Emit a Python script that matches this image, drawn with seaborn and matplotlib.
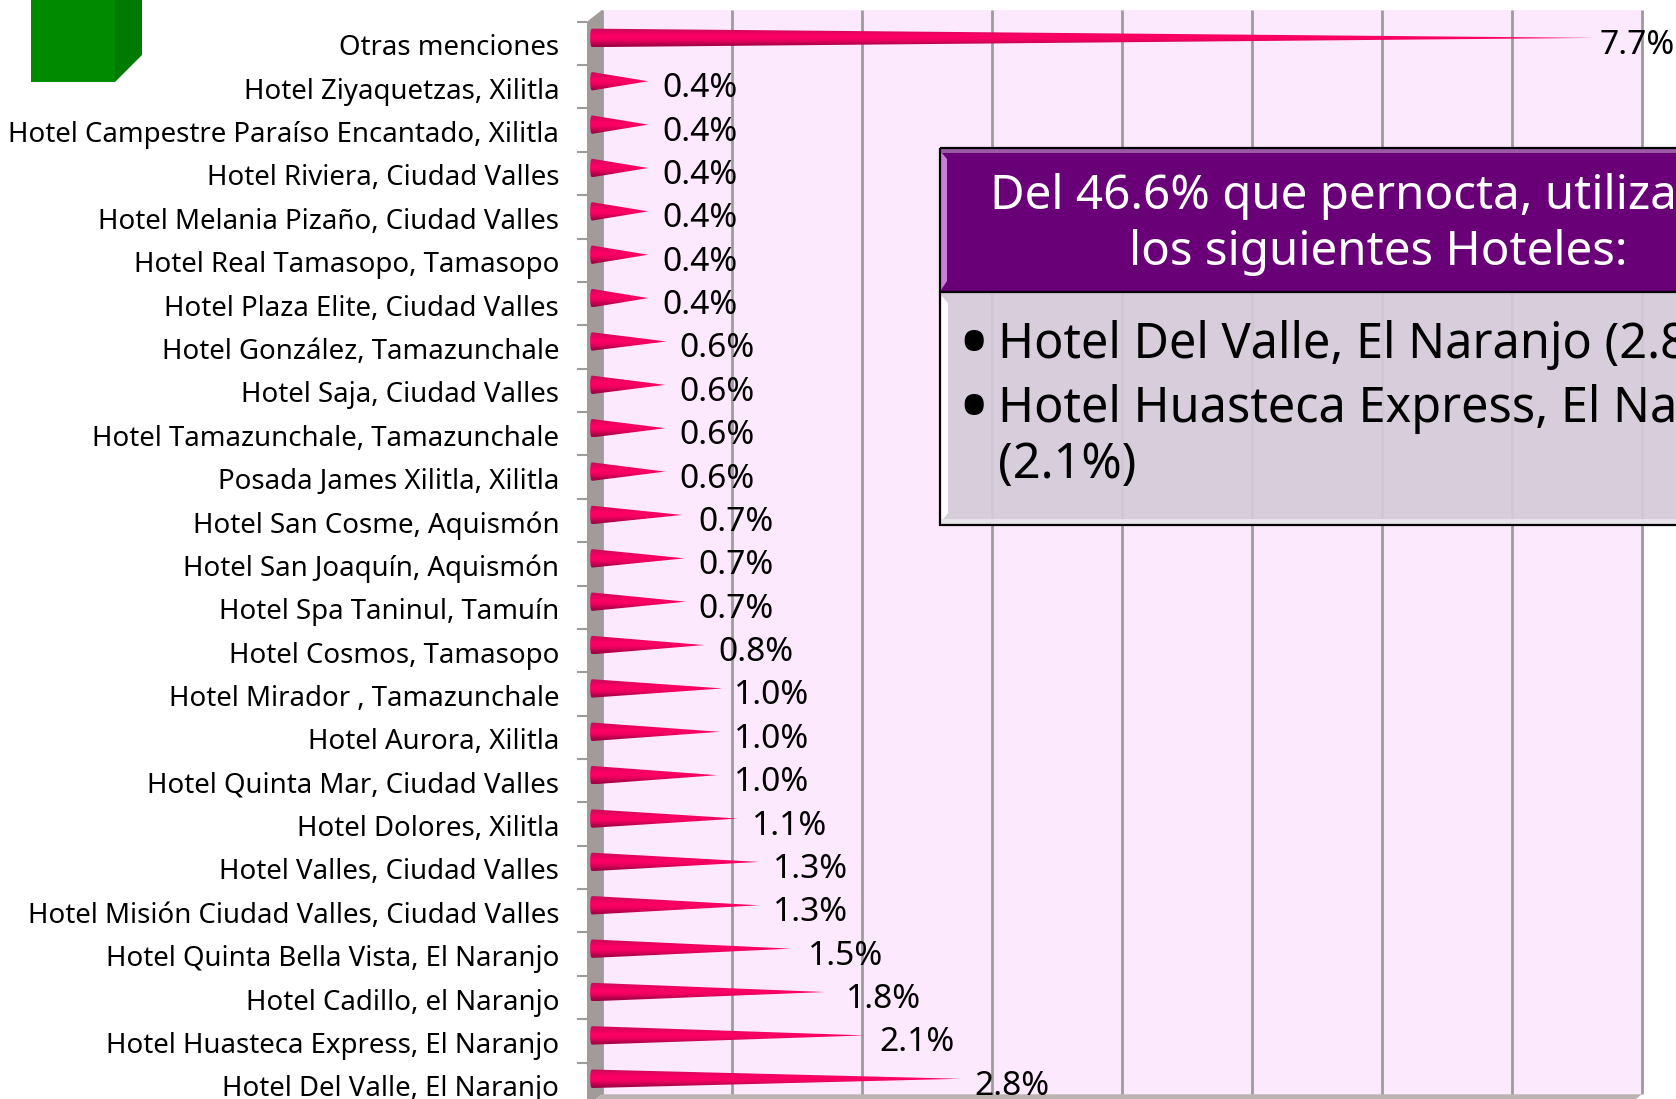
# Hotel mentions chart: cone bars on a pseudo 3D wall, with a purple note box.
import matplotlib
matplotlib.use("Agg")
import matplotlib.pyplot as plt
import matplotlib.transforms as mtransforms
import numpy as np
import pandas as pd
import seaborn as sns
from matplotlib.patches import Polygon, Rectangle
from matplotlib.path import Path
from matplotlib.patches import PathPatch

hotels = [
    "Otras menciones", "Hotel Ziyaquetzas, Xilitla",
    "Hotel Campestre Paraíso Encantado, Xilitla", "Hotel Riviera, Ciudad Valles",
    "Hotel Melania Pizaño, Ciudad Valles", "Hotel Real Tamasopo, Tamasopo",
    "Hotel Plaza Elite, Ciudad Valles", "Hotel González, Tamazunchale",
    "Hotel Saja, Ciudad Valles", "Hotel Tamazunchale, Tamazunchale",
    "Posada James Xilitla, Xilitla", "Hotel San Cosme, Aquismón",
    "Hotel San Joaquín, Aquismón", "Hotel Spa Taninul, Tamuín",
    "Hotel Cosmos, Tamasopo", "Hotel Mirador , Tamazunchale",
    "Hotel Aurora, Xilitla", "Hotel Quinta Mar, Ciudad Valles",
    "Hotel Dolores, Xilitla", "Hotel Valles, Ciudad Valles",
    "Hotel Misión Ciudad Valles, Ciudad Valles", "Hotel Quinta Bella Vista, El Naranjo",
    "Hotel Cadillo, el Naranjo", "Hotel Huasteca Express, El Naranjo",
    "Hotel Del Valle, El Naranjo",
]
# cone lengths (slightly finer than the printed labels)
values = [7.72, 0.44, 0.44, 0.44, 0.44, 0.44, 0.44, 0.58, 0.57, 0.57, 0.57, 0.70,
          0.72, 0.73, 0.87, 1.01, 0.99, 0.97, 1.13, 1.29, 1.29, 1.54, 1.80, 2.11, 2.84]
value_labels = ["7.7%", "0.4%", "0.4%", "0.4%", "0.4%", "0.4%", "0.4%", "0.6%", "0.6%",
                "0.6%", "0.6%", "0.7%", "0.7%", "0.7%", "0.8%", "1.0%", "1.0%", "1.0%",
                "1.1%", "1.3%", "1.3%", "1.5%", "1.8%", "2.1%", "2.8%"]
grid_ticks = [0, 1, 2, 3, 4, 5, 6, 7, 8]

header_lines = ["Del 46.6% que pernocta, utiliza", "los siguientes Hoteles:"]
body_lines = ["Hotel Del Valle, El Naranjo (2.8%)", "Hotel Huasteca Express, El Naranjo", "(2.1%)"]

W, H = 1676, 1099
FONT = "Noto Sans"
PX_X = 130.0    # pixels per 1%
PX_Y = 43.37    # pixels per row
LEFT, TOP = 587, 21.7
DX, DY = 15, 11.7   # depth of the fake 3D

sns.set_theme(style="white")
plt.rcParams["font.family"] = [FONT, "DejaVu Sans"]

fig = plt.figure(figsize=(W / 100, H / 100), dpi=100, facecolor="white")


def pixel_axes(zorder):
    a = fig.add_axes([0, 0, 1, 1], zorder=zorder)
    a.set_xlim(0, W)
    a.set_ylim(H, 0)
    a.axis("off")
    a.patch.set_alpha(0)
    return a


# ── Walls, floor, gridlines ───────────────────────────────────────────────────
bg = pixel_axes(0)
bottom = TOP + 25 * PX_Y
right = LEFT + DX + PX_X * 8
bg.add_patch(Rectangle((LEFT + DX, TOP - DY), right - LEFT - DX, bottom - TOP, fc="#FDE9FD", ec="none"))
bg.add_patch(Polygon([(LEFT, TOP), (LEFT + DX, TOP - DY), (LEFT + DX, bottom - DY), (LEFT, bottom)],
                     fc="#A39A9A", ec="none"))
bg.add_patch(Polygon([(LEFT, bottom), (LEFT + DX, bottom - DY), (right, bottom - DY), (right - DX, bottom)],
                     fc="#BDB3B3", ec="none"))
for t in grid_ticks:
    gx = LEFT + DX + t * PX_X
    bg.plot([gx, gx], [TOP - DY, bottom - DY], color="#9C9C9C", lw=2, solid_capstyle="butt")

# green cube in the corner
bg.add_patch(Rectangle((31, -5), 84, 87, fc="#008A00", ec="none"))
bg.add_patch(Polygon([(115, 82), (142, 55), (142, -5), (115, -5)], fc="#007A00", ec="none"))

# ── Chart ─────────────────────────────────────────────────────────────────────
ax = fig.add_axes([LEFT / W, 1 - bottom / H, (right - LEFT) / W, (bottom - TOP) / H], zorder=1)
ax.patch.set_alpha(0)

df = pd.DataFrame({"hotel": hotels, "value": values, "label": value_labels})
sns.barplot(data=df, x="value", y="hotel", orient="h", order=hotels, width=18.5 / PX_Y,
            color="#E8005A", ax=ax)
ax.set_xlim(0, (right - LEFT) / PX_X)
ax.set_ylim(24.5, -0.5)
ax.set_xlabel("")
ax.set_ylabel("")
ax.set_xticks([])
sns.despine(ax=ax, left=True, bottom=True)

ax.set_yticks(np.arange(-0.5, 24.5, 1), minor=True)
ax.tick_params(axis="y", which="minor", length=7, width=1.5, color="#9C9C9C", left=True)
ax.tick_params(axis="y", which="major", length=0, pad=20, labelsize=19.9, labelcolor="black")
# category names sit a little below the row centre
nudge = mtransforms.Affine2D().translate(0, -5)
for tick in ax.get_yticklabels():
    tick.set_verticalalignment("center")
    tick.set_transform(tick.get_transform() + nudge)

# vertical gradient of the cone surface
shade = np.array([[0.80, 0.05, 0.35], [0.92, 0.00, 0.37], [1.00, 0.00, 0.40],
                  [0.98, 0.00, 0.39], [0.84, 0.00, 0.34], [0.62, 0.00, 0.27]])[:, None, :]
x0 = 5 / PX_X
lift = 5.5 / PX_Y

# labels with the same text line up, so they hang off the group's mean length
label_anchor = df.groupby("label")["value"].mean()
label_gap = {"7.7%": 4, "1.8%": 20, "1.5%": 16}

for bar, label in zip(ax.patches, value_labels):
    bar.set_visible(False)
    yc = bar.get_y() + bar.get_height() / 2 - lift
    half = bar.get_height() / 2
    tip = x0 + bar.get_width() - 1 / PX_X
    bulge = 2.5 / PX_X
    path = Path([(x0, yc - half), (tip, yc), (x0, yc + half), (x0 - bulge, yc + half),
                 (x0 - bulge, yc - half), (x0, yc - half)],
                [Path.MOVETO, Path.LINETO, Path.LINETO, Path.CURVE4, Path.CURVE4, Path.CURVE4])
    clip = PathPatch(path, transform=ax.transData, fc="none", ec="none")
    ax.add_patch(clip)
    img = ax.imshow(shade, extent=(x0 - bulge, tip, yc + half, yc - half), aspect="auto",
                    interpolation="bicubic", zorder=3)
    img.set_clip_path(clip)
    ax.annotate(label, (x0 + label_anchor[label], yc + lift), xytext=(label_gap.get(label, 13), -2),
                textcoords="offset pixels", ha="left", va="center", fontsize=24.2,
                color="black", zorder=4, annotation_clip=False)

ax.set_xlim(0, (right - LEFT) / PX_X)
ax.set_ylim(24.5, -0.5)

# ── Note box ──────────────────────────────────────────────────────────────────
ov = pixel_axes(2)
box_l, box_r = 940, 1817
head_t, head_b, body_b = 148, 292, 525

ov.add_patch(Rectangle((box_l, head_b), box_r - box_l, body_b - head_b, fc="#D5CBD9", ec="none", alpha=0.93))
ov.add_patch(Rectangle((box_l, head_t), box_r - box_l, head_b - head_t, fc="#690078", ec="none"))
ov.add_patch(Rectangle((box_l, head_t), box_r - box_l, 5, fc="#9A5AA6", ec="none"))
ov.add_patch(Polygon([(box_l + 1, head_t + 4), (box_l + 7, head_t + 11), (box_l + 7, head_b - 11), (box_l + 1, head_b - 2)],
                     fc="#C77FD8", ec="none"))
ov.add_patch(Polygon([(box_l + 1, head_b + 3), (box_l + 8, head_b + 11), (box_l + 8, body_b - 12), (box_l + 1, body_b - 3)],
                     fc="#FBFAFC", ec="none"))
ov.add_patch(Rectangle((box_l, body_b - 6), box_r - box_l, 5, fc="#E8E2EA", ec="none"))
ov.add_patch(Rectangle((box_l, head_t), box_r - box_l, body_b - head_t, fc="none", ec="black", lw=1.6))
ov.plot([box_l, box_r], [head_b, head_b], color="black", lw=1.6)

ov.text(990, 197, header_lines[0], color="white", fontsize=34.2, ha="left", va="center")
ov.text(1378, 252, header_lines[1], color="white", fontsize=34.2, ha="center", va="center")
for line, y in zip(body_lines, [345, 409, 465]):
    ov.text(998, y, line, color="black", fontsize=35, ha="left", va="center")
for y in [350, 414]:
    ov.text(974, y, "•", color="black", fontsize=62, ha="center", va="center")

ov.set_xlim(0, W)
ov.set_ylim(H, 0)
bg.set_xlim(0, W)
bg.set_ylim(H, 0)

fig.savefig("out.png", dpi=100)
plt.close(fig)
print("[Saved] out.png")
